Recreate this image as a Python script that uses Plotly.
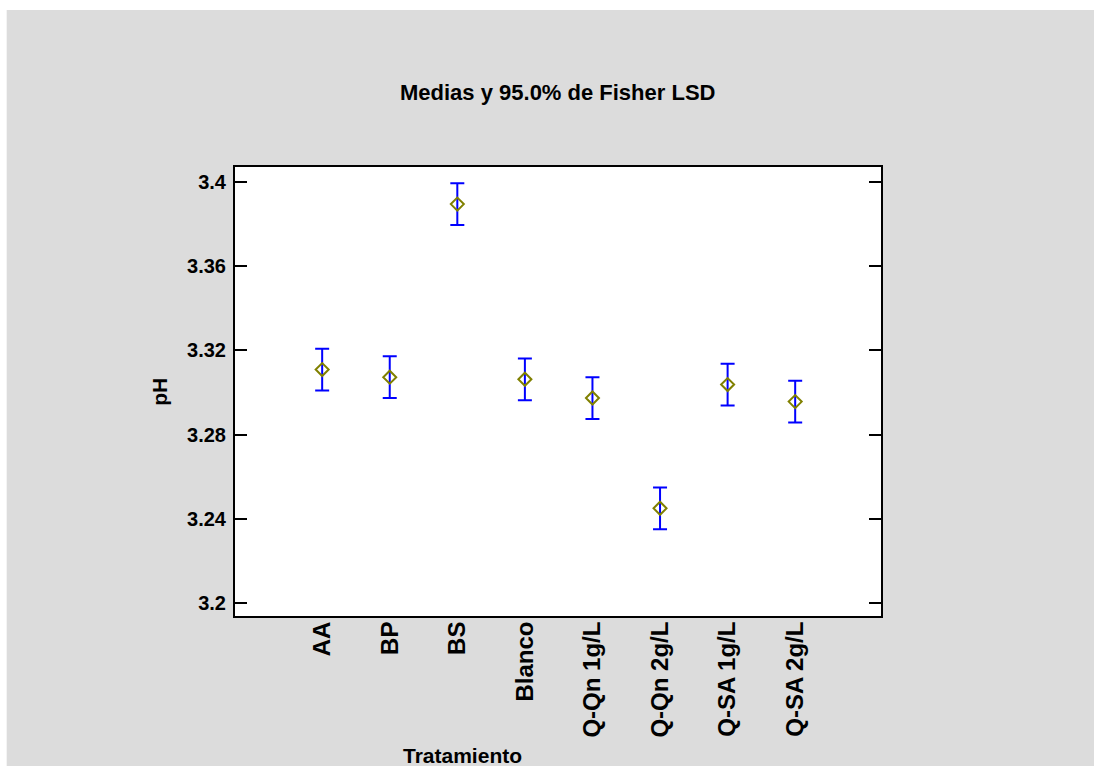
import plotly.graph_objects as go

categories = ["AA", "BP", "BS", "Blanco", "Q-Qn 1g/L", "Q-Qn 2g/L", "Q-SA 1g/L", "Q-SA 2g/L"]
means = [3.3109, 3.3073, 3.3894, 3.3063, 3.2974, 3.2451, 3.3038, 3.2957]
lsd_half = [0.0099, 0.0099, 0.0099, 0.0099, 0.0099, 0.0099, 0.0099, 0.0099]
y_ticks = [3.2, 3.24, 3.28, 3.32, 3.36, 3.4]

FONT = "Liberation Sans"
W, H = 1094, 766
L, R, T, B = 234.5, 881, 167, 615.7

fig = go.Figure()
fig.add_trace(go.Scatter(
    x=categories, y=means, mode="markers",
    marker=dict(symbol="diamond-open", size=10, color="#808000", line=dict(width=2, color="#808000")),
    error_y=dict(type="data", array=lsd_half, color="#0000FF", thickness=2, width=7),
    showlegend=False,
))

def px_x(p):
    return (p - L) / (R - L)

def px_y(p):
    return (B - p) / (B - T)

fig.update_layout(
    width=W, height=H,
    margin=dict(l=L, r=W - R, t=T, b=H - B, pad=0),
    paper_bgcolor="#DCDCDC",
    plot_bgcolor="white",
    font=dict(family=FONT, size=20, color="black"),
    showlegend=False,
    xaxis=dict(
        type="category", range=[-1.29, 8.27],
        showline=True, linecolor="black", linewidth=2, mirror=True,
        showgrid=False, zeroline=False, ticks="",
        ticklabelstandoff=-6,
        tickangle=-90, tickfont=dict(family=FONT, size=24, color="black", weight="bold"),
    ),
    yaxis=dict(
        range=[3.194, 3.407], tickvals=y_ticks, ticktext=[str(v) for v in y_ticks],
        showline=True, linecolor="black", linewidth=2, mirror="allticks",
        showgrid=False, zeroline=False,
        ticks="inside", ticklen=12, tickwidth=2, tickcolor="black",
        ticklabelstandoff=3,
        tickfont=dict(family=FONT, size=20, color="black", weight="bold"),
    ),
    shapes=[
        dict(type="rect", xref="paper", yref="paper", x0=px_x(-5), x1=px_x(W + 5), y0=px_y(-5), y1=px_y(10),
             fillcolor="white", line=dict(width=0), layer="above"),
        dict(type="rect", xref="paper", yref="paper", x0=px_x(-5), x1=px_x(6), y0=px_y(-5), y1=px_y(H + 5),
             fillcolor="white", line=dict(width=0), layer="above"),
    ],
    annotations=[
        dict(text="<b>Medias y 95.0% de Fisher LSD</b>", xref="paper", yref="paper",
             x=px_x(557), y=px_y(93), showarrow=False, xanchor="center", yanchor="middle",
             font=dict(family=FONT, size=22, color="black")),
        dict(text="<b>pH</b>", xref="paper", yref="paper", x=px_x(159), y=px_y(392),
             showarrow=False, textangle=-90, xanchor="center", yanchor="middle",
             font=dict(family=FONT, size=21, color="black")),
        dict(text="<b>Tratamiento</b>", xref="paper", yref="paper", x=px_x(462), y=px_y(755),
             showarrow=False, xanchor="center", yanchor="middle",
             font=dict(family=FONT, size=21, color="black")),
    ],
)

fig.write_html(
    "out.html",
    config={"displayModeBar": False},
    post_script="document.body.style.margin='0';document.body.style.overflow='hidden';",
)
